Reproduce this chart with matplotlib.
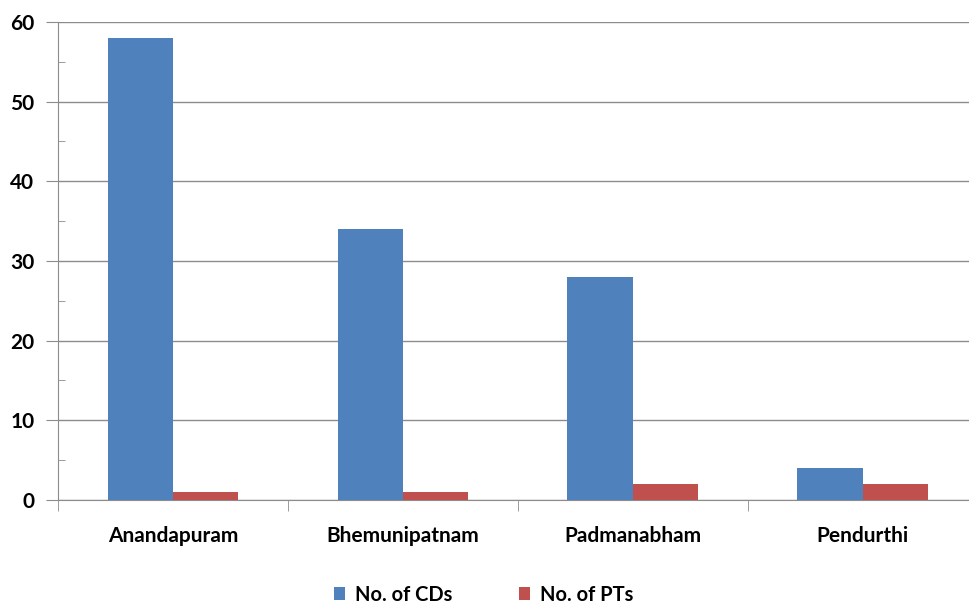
import numpy as np
import matplotlib
matplotlib.use("Agg")
import matplotlib.pyplot as plt
from matplotlib.ticker import MultipleLocator

plt.rcParams['font.family'] = ['Lato', 'DejaVu Sans']

blocks = ['Anandapuram', 'Bhemunipatnam', 'Padmanabham', 'Pendurthi']
cds = [58, 34, 28, 4]
pts = [1, 1, 2, 2]

fig = plt.figure(figsize=(9.69, 6.03), dpi=100)
ax = fig.add_axes([0.0599, 0.171, 0.949, 0.7925])

x = np.arange(len(blocks))
w = 0.284
ax.bar(x - w / 2, cds, w, color='#4F81BD', label='No. of CDs', zorder=3)
ax.bar(x + w / 2, pts, w, color='#C0504D', label='No. of PTs', zorder=3)

ax.set_xlim(-0.5, len(blocks) - 0.5)
ax.set_ylim(0, 60)
ax.yaxis.set_major_locator(MultipleLocator(10))
ax.yaxis.set_minor_locator(MultipleLocator(5))
ax.grid(axis='y', color='#8c8c8c', linewidth=1, zorder=0)

for s in ['top', 'right']:
    ax.spines[s].set_visible(False)
for s in ['left', 'bottom']:
    ax.spines[s].set_color('#8c8c8c')

ax.set_xticks(x)
ax.set_xticklabels(blocks, fontsize=15, fontweight='bold')
ax.tick_params(axis='x', length=0, pad=19)
# category separators below the axis
ax.set_xticks(np.arange(len(blocks) + 1) - 0.5, minor=True)
ax.tick_params(axis='x', which='minor', length=8, color='#8c8c8c', direction='out')
ax.tick_params(axis='y', which='major', length=9, color='#8c8c8c', labelsize=15, pad=8)
ax.tick_params(axis='y', which='minor', length=5, color='#8c8c8c', direction='in')
for t in ax.get_yticklabels():
    t.set_fontweight('bold')

fig.legend(*ax.get_legend_handles_labels(), loc='center', bbox_to_anchor=(0.499, 0.014),
           ncol=2, frameon=False, handlelength=0.55, handleheight=0.55,
           columnspacing=3.3, handletextpad=0.5, borderpad=0,
           prop={'size': 14.5, 'weight': 'bold'})

fig.savefig('out.png', dpi=100)
